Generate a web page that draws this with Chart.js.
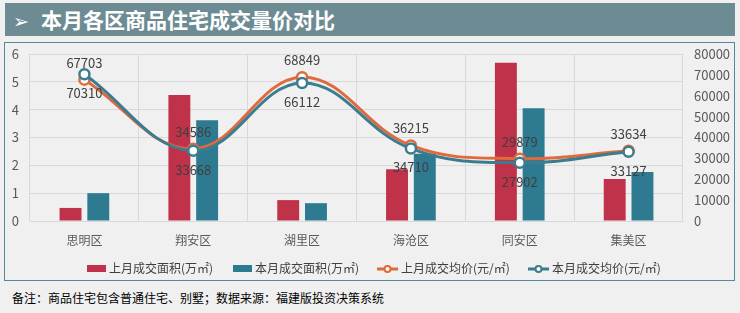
<!DOCTYPE html>
<html>
<head>
<meta charset="utf-8">
<script src="https://cdn.jsdelivr.net/npm/chart.js@4.4.0/dist/chart.umd.min.js"></script>
<style>
    body { margin: 0; width: 740px; height: 313px; background: #f0f0f0; position: relative; overflow: hidden; font-family: "Noto Sans CJK SC", sans-serif; }
    .banner { position: absolute; left: 5px; top: 3px; width: 730px; height: 33px; background: #6c8b93; color: #fff; font-weight: bold; font-size: 21px; line-height: 33px; }
    .banner .arrow { display: inline-block; margin-left: 8px; width: 28px; font-family: "DejaVu Sans"; font-weight: normal; font-size: 19px; }
    .chart-box { position: absolute; left: 4px; top: 42px; width: 729px; height: 237px; border: 1px solid #55899a; }
    .chart-box canvas { position: absolute; left: 0; top: 0; }
    .legend { position: absolute; left: 0; top: 258px; width: 740px; height: 20px; font-size: 12px; color: #404040; }
    .legend .item { position: absolute; top: 0; height: 20px; line-height: 20px; white-space: nowrap; }
    .legend .item canvas { vertical-align: middle; margin-right: 3px; position: relative; top: -1px; }
    .note { position: absolute; left: 12px; top: 289px; font-size: 12px; color: #000; }
</style>
</head>
<body>
<div class="banner"><span class="arrow">➢</span>本月各区商品住宅成交量价对比</div>
<div class="chart-box"><canvas id="mainChart" width="729" height="237"></canvas></div>
<div class="legend" id="legend"></div>
<div class="note">备注：商品住宅包含普通住宅、别墅；数据来源：福建版投资决策系统</div>
<script>
const districts = ["思明区", "翔安区", "湖里区", "海沧区", "同安区", "集美区"];
const lastMonthArea = [0.47, 4.53, 0.75, 1.86, 5.69, 1.51];
const thisMonthArea = [1.0, 3.62, 0.64, 2.42, 4.05, 1.76];
const lastMonthPrice = [67703, 34586, 68849, 36215, 29879, 33634];
const thisMonthPrice = [70310, 33668, 66112, 34710, 27902, 33127];
const areaTicks = [0, 1, 2, 3, 4, 5, 6];
const priceTicks = [0, 10000, 20000, 30000, 40000, 50000, 60000, 70000, 80000];

const RED = "#c0314a";
const TEAL = "#2d7a91";
const ORANGE = "#e06a3b";
const LINE_TEAL = "#3b7d8f";
const FONT = '"Noto Sans CJK SC", sans-serif';

function rectIcon(color) {
    const c = document.createElement("canvas");
    c.width = 19; c.height = 7;
    const g = c.getContext("2d");
    g.fillStyle = color;
    g.fillRect(0, 0, 19, 7);
    return c;
}

function lineIcon(color) {
    const c = document.createElement("canvas");
    c.width = 21; c.height = 10;
    const g = c.getContext("2d");
    g.strokeStyle = color;
    g.lineWidth = 3;
    g.beginPath(); g.moveTo(0, 5); g.lineTo(21, 5); g.stroke();
    g.fillStyle = "#fff";
    g.lineWidth = 2;
    g.beginPath(); g.arc(10.5, 5, 3, 0, Math.PI * 2); g.fill(); g.stroke();
    return c;
}

// labels for the price lines, orange above the point, teal below
const valueLabels = {
    id: "valueLabels",
    afterDatasetsDraw(chart) {
        const ctx = chart.ctx;
        chart.data.datasets.forEach((ds, i) => {
            if (ds.type !== "line") return;
            const meta = chart.getDatasetMeta(i);
            ctx.save();
            ctx.font = "13px " + FONT;
            ctx.fillStyle = "#404040";
            ctx.textAlign = "center";
            ctx.textBaseline = "middle";
            meta.data.forEach((pt, j) => {
                const dy = ds.labelPos === "top" ? -17 : 19;
                ctx.fillText(ds.data[j], pt.x, pt.y + dy);
            });
            ctx.restore();
        });
    }
};

// keep the side axes from pushing the plot area down
function fixSide(width) {
    return s => {
        s.width = width;
        s.paddingTop = 0;
        s.paddingBottom = 0;
    };
}

const chart = new Chart(document.getElementById("mainChart"), {
    data: {
        labels: districts,
        datasets: [
            {
                type: "bar", label: "上月成交面积(万㎡)", data: lastMonthArea,
                backgroundColor: RED, yAxisID: "y", order: 2,
                categoryPercentage: 0.51, barPercentage: 0.79,
                icon: rectIcon(RED), legendX: 87
            },
            {
                type: "bar", label: "本月成交面积(万㎡)", data: thisMonthArea,
                backgroundColor: TEAL, yAxisID: "y", order: 3,
                categoryPercentage: 0.51, barPercentage: 0.79,
                icon: rectIcon(TEAL), legendX: 233
            },
            {
                type: "line", label: "上月成交均价(元/㎡)", data: lastMonthPrice,
                borderColor: ORANGE, borderWidth: 3, tension: 0.4, yAxisID: "y1", order: 1,
                pointBackgroundColor: "#fff", pointBorderColor: ORANGE, pointBorderWidth: 2.5, pointRadius: 5,
                labelPos: "top", icon: lineIcon(ORANGE), legendX: 377
            },
            {
                type: "line", label: "本月成交均价(元/㎡)", data: thisMonthPrice,
                borderColor: LINE_TEAL, borderWidth: 3, tension: 0.4, yAxisID: "y1", order: 0,
                pointBackgroundColor: "#fff", pointBorderColor: LINE_TEAL, pointBorderWidth: 2.5, pointRadius: 5,
                labelPos: "bottom", icon: lineIcon(LINE_TEAL), legendX: 528
            }
        ]
    },
    options: {
        responsive: false,
        animation: false,
        layout: { autoPadding: false, padding: { top: 11, left: 0, right: 0, bottom: 29 } },
        scales: {
            x: {
                offset: true,
                grid: { color: "#d9d9d9", offset: true, drawTicks: false },
                border: { color: "#d9d9d9" },
                ticks: { color: "#595959", font: { size: 12, family: FONT }, padding: 12 },
                afterFit: s => { s.height = 30; }
            },
            y: {
                position: "left", min: 0, max: 6,
                afterBuildTicks: s => { s.ticks = areaTicks.map(v => ({ value: v })); },
                grid: { color: "#d9d9d9", drawTicks: false },
                border: { display: false },
                ticks: { color: "#595959", font: { size: 13, family: FONT }, padding: 11, callback: v => String(v) },
                afterFit: fixSide(25)
            },
            y1: {
                position: "right", min: 0, max: 80000,
                afterBuildTicks: s => { s.ticks = priceTicks.map(v => ({ value: v })); },
                grid: { drawOnChartArea: false, drawTicks: false },
                border: { display: false },
                ticks: { color: "#595959", font: { size: 13, family: FONT }, padding: 11, callback: v => String(v) },
                afterFit: fixSide(51)
            }
        },
        plugins: {
            tooltip: { enabled: false },
            legend: { display: false }
        }
    },
    plugins: [valueLabels]
});

const legendBox = document.getElementById("legend");
chart.data.datasets.forEach(ds => {
    const item = document.createElement("div");
    item.className = "item";
    item.style.left = ds.legendX + "px";
    item.appendChild(ds.icon);
    item.appendChild(document.createTextNode(ds.label));
    legendBox.appendChild(item);
});
</script>
</body>
</html>
